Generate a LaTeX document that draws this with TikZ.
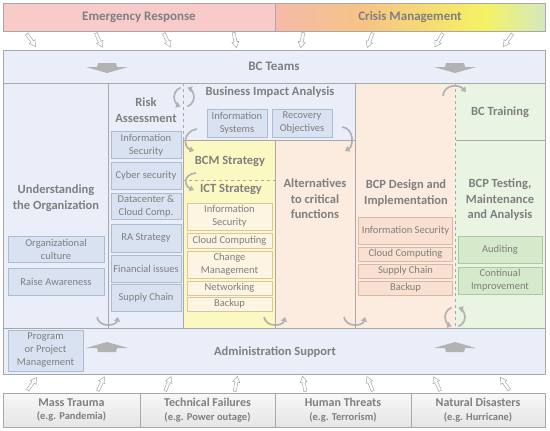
\documentclass[tikz,border=0pt]{standalone}
\usepackage{fontspec}
\setmainfont{Carlito}
\usepackage{tikz}
\usetikzlibrary{calc,positioning,arrows.meta}
\definecolor{txtgray}{HTML}{7F7F7F}
\definecolor{framegray}{HTML}{A8A8A8}
\definecolor{bandblue}{HTML}{E9EEF8}
\definecolor{boxblue}{HTML}{D8E2F1}
\definecolor{blueline}{HTML}{AEBBD0}
\definecolor{bcmyellow}{HTML}{FBF8C2}
\definecolor{ictbox}{HTML}{FDF5E2}
\definecolor{tanline}{HTML}{D6C6A6}
\definecolor{peach}{HTML}{FCEBDF}
\definecolor{peachbox}{HTML}{F9E0D0}
\definecolor{peachline}{HTML}{D8B9A6}
\definecolor{mintgreen}{HTML}{EAF4E3}
\definecolor{greenbox}{HTML}{D4EACB}
\definecolor{greenline}{HTML}{A9C9A0}
\definecolor{ergpink}{HTML}{F9CACA}
\definecolor{crisissalmon}{HTML}{F5BAAA}
\definecolor{crisisorange}{HTML}{F6C485}
\definecolor{crisisyellow}{HTML}{F5F264}
\definecolor{crisisgreen}{HTML}{D3E9BE}
\pgfdeclarehorizontalshading{crisis}{100bp}{color(0bp)=(crisissalmon); color(25bp)=(crisissalmon); color(42bp)=(crisisorange); color(64bp)=(crisisyellow); color(75bp)=(crisisgreen); color(100bp)=(crisisgreen)}

\begin{document}
\begin{tikzpicture}[
    x=1pt, y=-1pt,
    area/.style={draw=framegray, anchor=north west, inner sep=0pt, outer sep=0pt},
    banner/.style={text=txtgray, font=\bfseries\fontsize{13}{15}\selectfont},
    heading/.style={text=txtgray, align=center, font=\bfseries\fontsize{12.5}{15.5}\selectfont},
    item/.style={text=txtgray, align=center, inner sep=0pt, font=\fontsize{10.5}{13}\selectfont},
    itemblue/.style={item, fill=boxblue, draw=blueline},
    itemcream/.style={item, fill=ictbox, draw=tanline},
    itempeach/.style={item, fill=peachbox, draw=peachline},
    itemgreen/.style={item, fill=greenbox, draw=greenline},
    threat/.style={area, anchor=center, minimum height=34pt, top color=black!3, bottom color=black!10, text=txtgray, align=center, font=\bfseries\fontsize{12}{14}\selectfont},
    curl/.style={draw=black!30, line width=1.7pt, -{Triangle[length=4.5pt,width=6pt]}},
    divider/.style={draw=framegray, dashed, line width=0.6pt},
    pics/slim/.style={code={\draw[draw=black!35, fill=white, line width=0.5pt] (-1.5,-7.5) -- (1.5,-7.5) -- (1.5,2) -- (3.5,2) -- (0,8) -- (-3.5,2) -- (-1.5,2) -- cycle;}},
    pics/wide/.style={code={\fill[black!30] (-9,-5) -- (9,-5) -- (10,-1) -- (21,-1) -- (0,5) -- (-21,-1) -- (-10,-1) -- cycle;}},
    pics/turnround/.style={code={\draw[curl] (250:10) arc (250:110:10); \draw[curl] (70:10) arc (70:-70:10);}}
  ]
    \useasboundingbox (0,0) rectangle (550,431);

    \node[area, fill=ergpink, minimum width=272pt, minimum height=28pt, banner] (emerg) at (3,3) {Emergency Response};
    \node[area, shading=crisis, minimum width=270pt, minimum height=28pt, banner] (crisis) at (275,3) {Crisis Management};
    \node[area, fill=bandblue, minimum width=542pt, minimum height=33pt, banner] (teams) at (3,50) {BC Teams};

    \node[area, fill=bandblue, minimum width=105pt, minimum height=245pt] (org) at (3,83) {};
    \node[area, fill=bandblue, minimum width=75pt, minimum height=245pt] (risk) at (108,83) {};
    \node[area, fill=bandblue, minimum width=172pt, minimum height=57pt] (bia) at (183,83) {};
    \node[area, fill=bcmyellow, minimum width=92pt, minimum height=188pt] (bcm) at (183,140) {};
    \node[area, fill=peach, minimum width=80pt, minimum height=188pt] (alt) at (275,140) {};
    \node[area, fill=peach, minimum width=100pt, minimum height=245pt] (bcp) at (355,83) {};
    \node[area, fill=mintgreen, minimum width=90pt, minimum height=57pt] (train) at (455,83) {};
    \node[area, fill=mintgreen, minimum width=90pt, minimum height=188pt] (test) at (455,140) {};
    \node[area, fill=bandblue, minimum width=542pt, minimum height=46pt] (admin) at (3,328) {};

    \draw[draw=bandblue, line width=1pt] (bia.north west) -- (bia.south west);
    \draw[divider] (bia.north west) -- (bia.south west);
    \draw[draw=mintgreen, line width=1pt] (bcp.north east) -- (bcp.south east);
    \draw[divider] (bcp.north east) -- (bcp.south east);
    \draw[divider] ([yshift=-40pt]bcm.north west) -- ([yshift=-40pt]bcm.north east);

    \node[heading] (orgtitle) at (56,198) {Understanding\\the Organization};
    \node[heading] (risktitle) at (146,110) {Risk\\Assessment};
    \node[heading] (biatitle) at (270,92) {Business Impact Analysis};
    \node[heading] (bcmtitle) at (230,161) {BCM Strategy};
    \node[heading] (icttitle) at (231,189) {ICT Strategy};
    \node[heading] (alttitle) at (315,199) {Alternatives\\to critical\\functions};
    \node[heading] (bcptitle) at (406,193) {BCP Design and\\Implementation};
    \node[heading] (traintitle) at (500,112) {BC Training};
    \node[heading] (testtitle) at (500,200) {BCP Testing,\\Maintenance\\and Analysis};
    \node[heading] (admintitle) at (275,352) {Administration Support};

    \node[itemblue, minimum width=96pt, minimum height=26pt] (culture) at (56,249) {Organizational\\culture};
    \node[itemblue, minimum width=96pt, minimum height=27pt] (aware) at (56,282) {Raise Awareness};

    \node[itemblue, minimum width=70pt, minimum height=27pt] (rainfo) at (146,145) {Information\\Security};
    \node[itemblue, minimum width=70pt, minimum height=27pt] (cyber) at (146,176) {Cyber security};
    \node[itemblue, minimum width=70pt, minimum height=26pt] (datacenter) at (146,206) {Datacenter \&\\Cloud Comp.};
    \node[itemblue, minimum width=70pt, minimum height=28pt] (rastrat) at (146,238) {RA Strategy};
    \node[itemblue, minimum width=70pt, minimum height=27pt] (finance) at (146,269) {Financial issues};
    \node[itemblue, minimum width=70pt, minimum height=27pt] (rasupply) at (146,298) {Supply Chain};

    \node[itemblue, minimum width=60pt, minimum height=28pt] (infosys) at (237,123) {Information\\Systems};
    \node[itemblue, minimum width=60pt, minimum height=28pt] (recovery) at (302,123) {Recovery\\Objectives};

    \node[itemcream, minimum width=85pt, minimum height=27pt] (ictinfo) at (229.5,216.5) {Information\\Security};
    \node[itemcream, minimum width=85pt, minimum height=15pt] (ictcloud) at (229.5,240.5) {Cloud Computing};
    \node[itemcream, minimum width=85pt, minimum height=27pt] (change) at (229.5,264.5) {Change\\Management};
    \node[itemcream, minimum width=85pt, minimum height=14pt] (network) at (229.5,288) {Networking};
    \node[itemcream, minimum width=85pt, minimum height=14pt] (ictbackup) at (229.5,304) {Backup};

    \node[itempeach, minimum width=94pt, minimum height=27pt] (bcpinfo) at (405.5,230.5) {Information Security};
    \node[itempeach, minimum width=94pt, minimum height=14pt] (bcpcloud) at (405.5,254) {Cloud Computing};
    \node[itempeach, minimum width=94pt, minimum height=14pt] (bcpsupply) at (405.5,271) {Supply Chain};
    \node[itempeach, minimum width=94pt, minimum height=14pt] (bcpbackup) at (405.5,288) {Backup};

    \node[itemgreen, minimum width=84pt, minimum height=27pt] (audit) at (500,249.5) {Auditing};
    \node[itemgreen, minimum width=84pt, minimum height=27pt] (improve) at (500,280.5) {Continual\\Improvement};

    \node[itemblue, minimum width=75pt, minimum height=41pt] (program) at (45.5,350.5) {Program\\or Project\\Management};

    \node[threat, minimum width=137pt] (mass) at (71.5,410) {\raisebox{-1.5pt}{Mass Trauma}\\[1pt]{\bfseries\fontsize{10.5}{12}\selectfont (e.g. Pandemia)}};
    \node[threat, minimum width=135pt] (tech) at (207.5,410) {\raisebox{-1.5pt}{Technical Failures}\\[1pt]{\bfseries\fontsize{10.5}{12}\selectfont (e.g. Power outage)}};
    \node[threat, minimum width=136pt] (human) at (343,410) {\raisebox{-1.5pt}{Human Threats}\\[1pt]{\bfseries\fontsize{10.5}{12}\selectfont (e.g. Terrorism)}};
    \node[threat, minimum width=134pt] (nature) at (478,410) {\raisebox{-1.5pt}{Natural Disasters}\\[1pt]{\bfseries\fontsize{10.5}{12}\selectfont (e.g. Hurricane)}};

    \foreach \px/\ang in {31/35, 99/25, 167/25, 235/10, 302/-10, 370/-20, 439/-30, 508/-35}
      \pic[rotate=\ang] at (\px,40) {slim};
    \foreach \px/\ang in {32/145, 101/155, 168/158, 236/170, 304/190, 370/202, 437/205, 505/215}
      \pic[rotate=\ang] at (\px,384) {slim};

    \pic at (107,68) {wide};
    \pic at (455,68) {wide};
    \pic[rotate=180] at (107,347) {wide};
    \pic[rotate=180] at (455,347) {wide};

    \draw[curl] ([shift={(14,-11)}]bcm.north west) .. controls +(-14,2) and +(-11,-4) .. ([shift={(11,11)}]bcm.north west);
    \draw[curl] ([shift={(13,33)}]bcm.north west) .. controls +(-13,1) and +(-10,-4) .. ([shift={(11,50)}]bcm.north west);
    \draw[curl] ([shift={(-13,-13)}]bia.south east) .. controls +(12,1) and +(9,-5) .. ([shift={(-10,11)}]bia.south east);
    \draw[curl] ([shift={(-12,13)}]train.north west) .. controls +(1,-12) and +(-7,-8) .. ([shift={(11,9)}]train.north west);
    \foreach \c in {risk.south west, alt.south west, bcp.south west}
      \draw[curl] ([shift={(-11,-11)}]\c) .. controls +(2,11) and +(-2,9) .. ([shift={(10,-11)}]\c);

    \pic at ([shift={(1,14)}]bia.north west) {turnround};
    \pic at ([shift={(0,-11)}]test.south west) {turnround};
  \end{tikzpicture}
\end{document}
